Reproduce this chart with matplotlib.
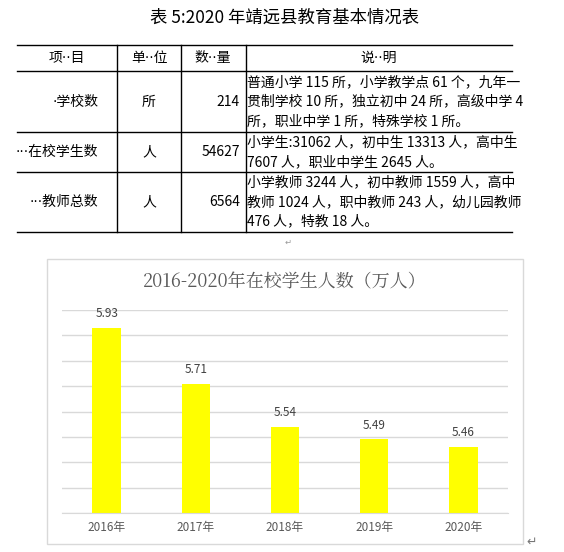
import matplotlib.pyplot as plt

plt.rcParams['font.family'] = ['Noto Sans CJK SC', 'DejaVu Sans']

# 表格数据
table_title = "表 5:2020 年靖远县教育基本情况表"
headers = ["项··目", "单··位", "数··量", "说··明"]
items = ["·学校数", "···在校学生数", "···教师总数"]
units = ["所", "人", "人"]
counts = ["214", "54627", "6564"]
notes = [
    ["普通小学 115 所，小学教学点 61 个，九年一",
     "贯制学校 10 所，独立初中 24 所，高级中学 4",
     "所，职业中学 1 所，特殊学校 1 所。"],
    ["小学生:31062 人，初中生 13313 人，高中生",
     "7607 人，职业中学生 2645 人。"],
    ["小学教师 3244 人，初中教师 1559 人，高中",
     "教师 1024 人，职中教师 243 人，幼儿园教师",
     "476 人，特教 18 人。"],
]

# 柱状图数据
chart_title = "2016-2020年在校学生人数（万人）"
years = ["2016年", "2017年", "2018年", "2019年", "2020年"]
students = [5.93, 5.71, 5.54, 5.49, 5.46]

W, H = 564, 552
fig = plt.figure(figsize=(W / 100, H / 100), dpi=100)
bg = fig.add_axes([0, 0, 1, 1])
bg.set_xlim(0, W)
bg.set_ylim(H, 0)
bg.axis('off')

dot_font = ['DejaVu Sans', 'Noto Sans CJK SC']

# 标题
bg.text(285, 18, table_title, ha='center', va='center', fontsize=12.5)

# 表格线
row_y = [45, 71, 132, 172, 232]
for y in row_y:
    bg.plot([17, 512], [y, y], color='black', lw=1)
for x in [117, 181, 246]:
    bg.plot([x, x], [45, 232], color='black', lw=1)

col_cx = [67, 149, 213, 379]
for cx, h in zip(col_cx, headers):
    bg.text(cx, 58, h, ha='center', va='center', fontsize=10, family=dot_font)

for i in range(3):
    cy = (row_y[i + 1] + row_y[i + 2]) / 2
    bg.text(98, cy, items[i], ha='right', va='center', fontsize=10, family=dot_font)
    bg.text(149, cy, units[i], ha='center', va='center', fontsize=10)
    bg.text(240, cy, counts[i], ha='right', va='center', fontsize=10)
    n = len(notes[i])
    top = row_y[i + 1]
    h = row_y[i + 2] - top
    step = 19.5
    start = top + (h - step * n) / 2 + step / 2
    for k, line in enumerate(notes[i]):
        bg.text(247, start + k * step, line, ha='left', va='center', fontsize=10)

bg.text(288, 242, "↵", ha='center', va='center', color='#999999', fontsize=6)
bg.text(532, 542, "↵", ha='center', va='center', color='#777777', fontsize=9)

# 图表外框
bg.add_patch(plt.Rectangle((47, 259), 476, 285, fill=False, ec='#d9d9d9', lw=1))

# 柱状图
ax = fig.add_axes([62 / W, 1 - 513 / H, 446 / W, 203 / H])
x = range(len(years))
ax.bar(x, students, width=0.32, color='#ffff00')
ax.set_ylim(5.2, 6.0)
ax.set_xlim(-0.5, len(years) - 0.5)
ax.set_yticks([5.2 + 0.1 * i for i in range(9)])
ax.set_yticklabels([])
ax.tick_params(axis='y', length=0)
ax.tick_params(axis='x', length=0, labelsize=8.5, colors='#595959', pad=6)
ax.set_xticks(list(x))
ax.set_xticklabels(years)
ax.grid(axis='y', color='#d9d9d9', lw=1)
ax.set_axisbelow(True)
for s in ['top', 'right', 'left']:
    ax.spines[s].set_visible(False)
ax.spines['bottom'].set_color('#d9d9d9')
for i, v in enumerate(students):
    ax.text(i, v + 0.03, f"{v:.2f}", ha='center', va='bottom', fontsize=8.5, color='#404040')

bg.text(285, 282, chart_title, ha='center', va='center', fontsize=13, color='#595959',
        family=['Noto Serif CJK SC', 'Noto Sans CJK SC', 'DejaVu Sans'])

plt.savefig('out.png', dpi=100)
